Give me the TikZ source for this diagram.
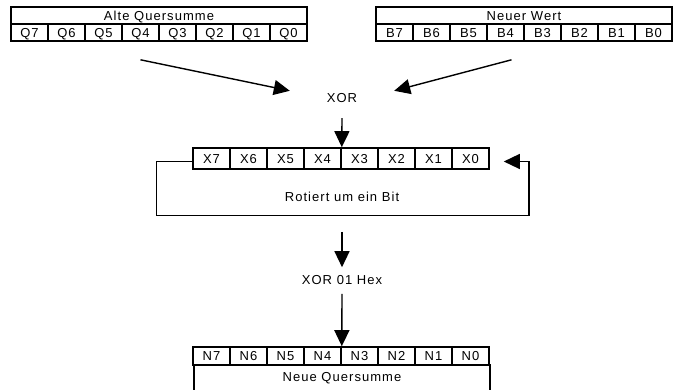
\documentclass[tikz,border=0pt]{standalone}
\usepackage{fontspec}
\setmainfont[LetterSpace=8]{Liberation Sans}
\usetikzlibrary{arrows.meta,positioning}
\tikzset{
  cell/.style={draw,line width=1.6pt,minimum width=37pt,inner sep=0pt,text height=9.5pt,text depth=0pt,font=\fontsize{13}{13}\selectfont},
  titlebox/.style={draw,line width=1.6pt,minimum width=296pt,minimum height=17pt,inner sep=0pt,text height=9.5pt,text depth=0pt,font=\fontsize{13}{13}\selectfont},
  label/.style={inner sep=0pt,font=\fontsize{13}{13}\selectfont},
  arr/.style={line width=1.4pt,-{Triangle[length=16pt,width=15pt]}}
}

\begin{document}
\begin{tikzpicture}[x=1pt,y=-1pt]
\useasboundingbox (0,0) rectangle (682,390);
% Alte Quersumme / Neuer Wert
\node[titlebox] (alt) at (159,15.5) {Alte Quersumme};
\node[titlebox] (neu) at (524,15.5) {Neuer Wert};
\foreach \i in {0,...,7} {
  \node[cell,minimum height=17pt] (q\i) at ({29.5+37*(7-\i)},32.5) {Q\i};
  \node[cell,minimum height=17pt] (b\i) at ({394.5+37*(7-\i)},32.5) {B\i};
}
\node[label,minimum width=104pt,minimum height=14pt] (xor) at (342,98) {XOR};
\draw[arr] ([yshift=-18pt]q4.south) -- (xor.north west);
\draw[arr] ([yshift=-18pt,xshift=6pt]b4.south) -- (xor.north east);
% Register X
\foreach \i in {0,...,7}
  \node[cell,minimum height=21pt] (x\i) at ({211.5+37*(7-\i)},158.5) {X\i};
\draw[arr] ([yshift=-13pt]xor.south) -- (x4.north east);
\node[label] (rot) at (342,197) {Rotiert um ein Bit};
\draw[arr] ([yshift=-3pt]x7.west) -- ++(-36,0) -- ++(0,54) -| ([xshift=39pt,yshift=-3pt]x0.east) -- ([xshift=14pt,yshift=-3pt]x0.east);
% XOR 01 Hex
\node[label] (hex) at (342,280) {XOR 01 Hex};
\draw[arr] ([yshift=-30pt]rot.south) -- ([yshift=8pt]hex.north);
% Neue Quersumme
\foreach \i in {0,...,7}
  \node[cell,minimum height=18pt] (n\i) at ({211.5+37*(7-\i)},356) {N\i};
\node[titlebox,minimum height=28pt] (neue) at (342,379) {\raisebox{2pt}{Neue Quersumme}};
\draw[arr] ([yshift=-9pt]hex.south) -- (n4.north east);
\end{tikzpicture}
\end{document}
